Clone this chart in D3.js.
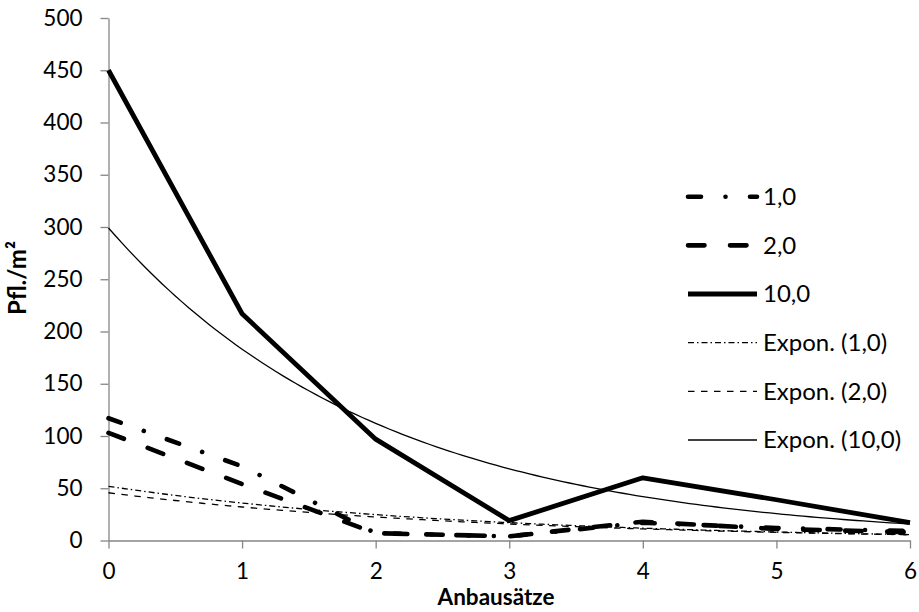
<!DOCTYPE html>
<html>
<head>
<meta charset="utf-8">
<script src="https://cdn.jsdelivr.net/npm/d3@7/dist/d3.min.js"></script>
<style>
  html, body { margin: 0; padding: 0; background: #fff; }
  svg { display: block; }
  text { font-family: Lato, "Open Sans", sans-serif; fill: #000; }
</style>
</head>
<body>
<svg id="chart" width="919" height="612"></svg>
<script>
// ---- data ----
const xValues = [0, 1, 2, 3, 4, 5, 6];
const seriesNames = ["1,0", "2,0", "10,0"];
const values_1_0 = [117, 71, 7, 4, 17, 12, 9];
const values_2_0 = [103, 54, 7, 4, 18, 11, 8];
const values_10_0 = [450, 217, 97, 19, 60, 39, 17];
const yTicks = [0, 50, 100, 150, 200, 250, 300, 350, 400, 450, 500];
const xTicks = [0, 1, 2, 3, 4, 5, 6];
const trendNames = ["Expon. (1,0)", "Expon. (2,0)", "Expon. (10,0)"];
const yTitle = "Pfl./m²";
const xTitle = "Anbausätze";

// ---- layout ----
const svg = d3.select("#chart");
const x = d3.scaleLinear().domain([0, 6]).range([108.5, 910]);
const y = d3.scaleLinear().domain([0, 500]).range([540.5, 18]);
const axisColor = "#868686";

// exponential least-squares fit (as spreadsheet trendline)
function expFit(xs, ys) {
  const n = xs.length;
  const ly = ys.map(v => Math.log(v));
  const mx = d3.mean(xs), my = d3.mean(ly);
  let sxy = 0, sxx = 0;
  for (let i = 0; i < n; i++) { sxy += (xs[i]-mx)*(ly[i]-my); sxx += (xs[i]-mx)**2; }
  const b = sxy / sxx;
  const a = Math.exp(my - b*mx);
  return t => a * Math.exp(b*t);
}

const seriesStyles = [
  { w: 4.6, dash: "13,24.5,0.01,24.5", cap: "round" },
  { w: 4.6, dash: "16.5,25.5", cap: "round" },
  { w: 4.8, dash: null, cap: "butt" }
];
const trendStyles = [
  { w: 1.3, dash: "6,3,1.5,3" },
  { w: 1.3, dash: "6.5,6.5" },
  { w: 1.3, dash: null }
];
const allSeries = [values_1_0, values_2_0, values_10_0];

// axes
const yAxis = d3.axisLeft(y).tickValues(yTicks).tickSize(8).tickPadding(18).tickSizeOuter(0).tickFormat(d3.format("d"));
const gy = svg.append("g").attr("transform", `translate(${x(0)},0)`).call(yAxis);
const xAxis = d3.axisBottom(x).tickValues(xTicks).tickSize(8).tickPadding(15).tickSizeOuter(0).tickFormat(d3.format("d"));
const gx = svg.append("g").attr("transform", `translate(0,${y(0)})`).call(xAxis);
[gy, gx].forEach(g => {
  g.select(".domain").attr("stroke", axisColor).attr("stroke-width", 1.3);
  g.selectAll(".tick line").attr("stroke", axisColor).attr("stroke-width", 1.3);
  g.selectAll(".tick text").style("font-size", "22.5px").attr("fill", "#000");
});

// trendlines
const samples = d3.range(0, 6.0001, 0.05);
allSeries.forEach((vals, i) => {
  const f = expFit(xValues, vals);
  const line = d3.line().x(d => x(d)).y(d => y(f(d)));
  svg.append("path").attr("d", line(samples))
    .attr("fill", "none").attr("stroke", "#000")
    .attr("stroke-width", trendStyles[i].w)
    .attr("stroke-dasharray", trendStyles[i].dash);
});

// series lines
allSeries.forEach((vals, i) => {
  const line = d3.line().x((d, j) => x(xValues[j])).y(d => y(d));
  svg.append("path").attr("d", line(vals))
    .attr("fill", "none").attr("stroke", "#000")
    .attr("stroke-width", seriesStyles[i].w)
    .attr("stroke-linecap", seriesStyles[i].cap)
    .attr("stroke-linejoin", "round")
    .attr("stroke-dasharray", seriesStyles[i].dash);
});

// axis titles
svg.append("text").attr("transform", "translate(26,278) rotate(-90)")
  .attr("text-anchor", "middle").style("font-size", "24px").style("font-weight", "bold")
  .text(yTitle);
svg.append("text").attr("x", 496).attr("y", 605)
  .attr("text-anchor", "middle").style("font-size", "22.5px").style("font-weight", "bold")
  .text(xTitle);

// legend
const legendItems = seriesNames.map((n, i) => ({ name: n, st: seriesStyles[i] }))
  .concat(trendNames.map((n, i) => ({ name: n, st: trendStyles[i] })));
const legendY = d3.scaleLinear().domain([0, 5]).range([196.7, 440]);
const lg = svg.append("g");
legendItems.forEach((it, i) => {
  const yy = legendY(i);
  lg.append("line").attr("x1", 688).attr("x2", 757).attr("y1", yy).attr("y2", yy)
    .attr("stroke", "#000").attr("stroke-width", it.st.w)
    .attr("stroke-linecap", it.st.cap || "butt")
    .attr("stroke-dasharray", it.st.dash);
  lg.append("text").attr("x", 763).attr("y", yy).attr("dy", "0.35em")
    .style("font-size", "24px").text(it.name);
});
</script>
</body>
</html>
